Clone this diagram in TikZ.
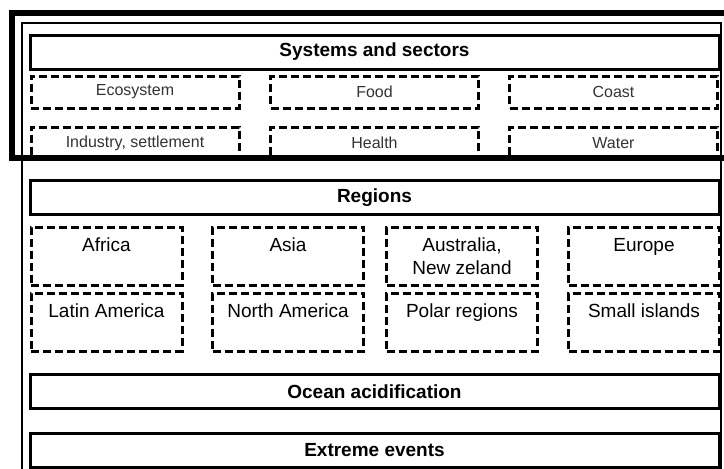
\documentclass[tikz,border=0pt]{standalone}
\usepackage{fontspec}
\setmainfont{Liberation Sans}
\begin{document}
\begin{tikzpicture}[x=1pt, y=-1pt,
    header/.style={draw, line width=3pt, minimum width=689pt, minimum height=34pt, inner sep=0pt, font=\fontsize{19}{22}\selectfont\bfseries},
    sectorbox/.style={draw, line width=3pt, dash pattern=on 8pt off 4pt, minimum width=208pt, minimum height=32pt, inner sep=0pt, text=black!80, font=\fontsize{16}{18}\selectfont},
    regionbox/.style={draw, line width=3pt, dash pattern=on 8pt off 4pt, minimum width=151pt, minimum height=58pt, inner sep=0pt, align=center, font=\fontsize{19}{23}\selectfont}]
    \useasboundingbox (0,0) rectangle (724,469);

    % Frame corners (both frames run off the page)
    \coordinate (thinbl) at (22,480);
    \coordinate (thintl) at (22,23);
    \coordinate (thintr) at (721,23);
    \coordinate (thinbr) at (721,480);
    \coordinate (thicktr) at (735,13);
    \coordinate (thicktl) at (11.5,13);
    \coordinate (thickbl) at (11.5,158);
    \coordinate (thickbr) at (735,158);

    % Outer thin frame
    \draw[line width=2pt] (thinbl) -- (thintl) -- (thintr) -- (thinbr);

    % Systems and sectors
    \node[header] (systems) at (374.5,52) {Systems and sectors};
    \node[sectorbox] (ecosystem) at (135,92) {Ecosystem};
    \node[sectorbox] (food) at (374.5,92) {Food};
    \node[sectorbox] (coast) at (613.5,92) {Coast};
    \node[sectorbox] (industry) at (135,143) {Industry, settlement};
    \node[sectorbox] (health) at (374.5,143) {Health};
    \node[sectorbox] (water) at (613.5,143) {Water};

    % Regions
    \node[header] (regions) at (374.5,197.5) {Regions};
    \node[regionbox] (africa) at (106.5,256) {Africa\\~};
    \node[regionbox] (asia) at (288,256) {Asia\\~};
    \node[regionbox] (australia) at (462,256) {Australia,\\New zeland};
    \node[regionbox] (europe) at (644,256) {Europe\\~};
    \node[regionbox] (latinam) at (106.5,322) {Latin America\\~};
    \node[regionbox] (northam) at (288,322) {North America\\~};
    \node[regionbox] (polar) at (462,322) {Polar regions\\~};
    \node[regionbox] (islands) at (644,322) {Small islands\\~};

    % Cross-cutting themes
    \node[header] (ocean) at (374.5,391.5) {Ocean acidification};
    \node[header] (extreme) at (374.5,450) {Extreme events};

    % Thick frame round the top block
    \draw[line width=6pt] (thicktr) -- (thicktl) -- (thickbl) -- (thickbr);

\end{tikzpicture}
\end{document}
